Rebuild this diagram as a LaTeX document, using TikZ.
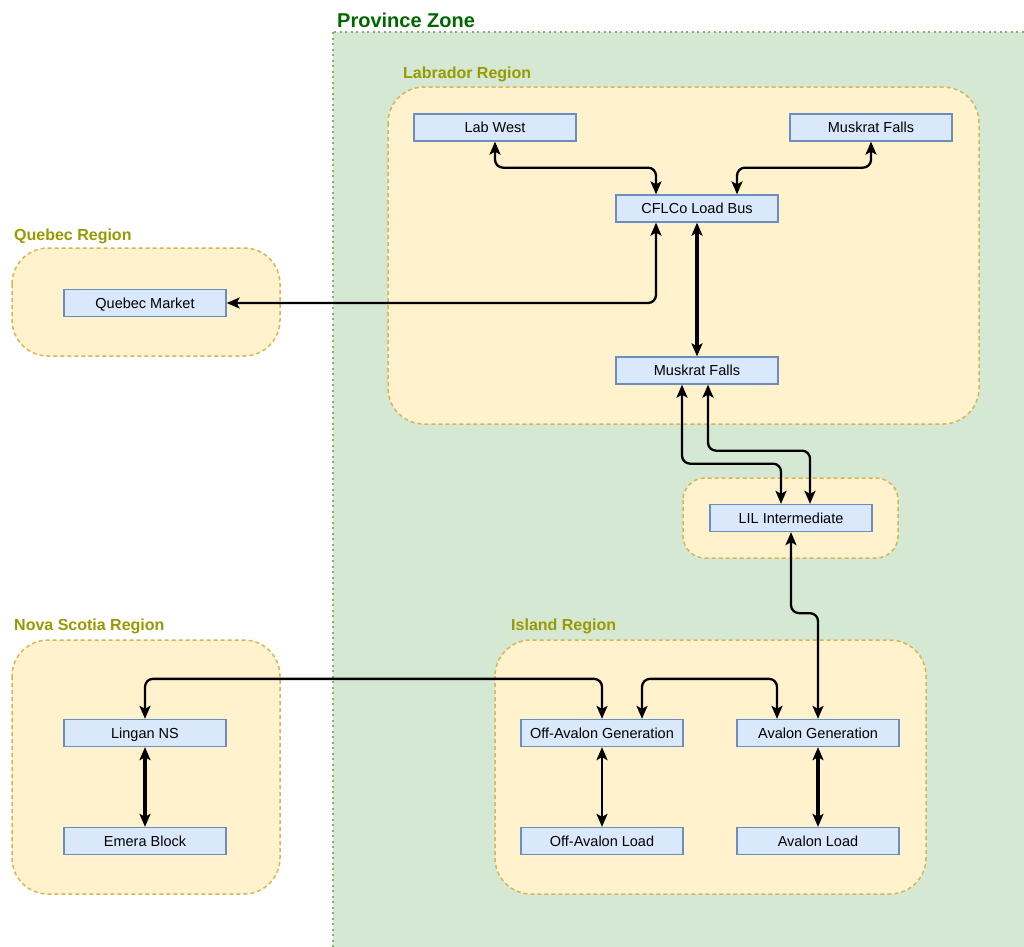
\documentclass[tikz,border=0pt]{standalone}
\usepackage{fontspec}
\setmainfont{Liberation Sans}
\usetikzlibrary{arrows.meta}
\definecolor{zonefill}{HTML}{D5E8D4}
\definecolor{zoneline}{HTML}{82B366}
\definecolor{zonetext}{HTML}{006600}
\definecolor{regfill}{HTML}{FFF2CC}
\definecolor{regline}{HTML}{D6B656}
\definecolor{regtext}{HTML}{999900}
\definecolor{busfill}{HTML}{DAE8FC}
\definecolor{busline}{HTML}{6C8EBF}
\begin{document}
\begin{tikzpicture}[x = 1pt, y = -1pt,
    region/.style = {fill = regfill, draw = regline, line width = 1.5pt,
      dash pattern = on 4pt off 3pt, rounded corners = 36pt},
    regionlabel/.style = {anchor = west, inner sep = 0pt, text = regtext,
      font = \fontsize{16}{18}\selectfont\bfseries},
    bus/.style = {fill = busfill, draw = busline, line width = 1.3pt,
      minimum width = 162pt, minimum height = 27pt, inner sep = 0pt,
      text height = 10.4pt, text depth = 0pt,
      font = \fontsize{14.5}{16}\selectfont},
    link/.style = {line width = 2.3pt, rounded corners = 8pt,
      {Stealth[length = 13pt, width = 11pt, inset = 3pt]}-{Stealth[length = 13pt, width = 11pt, inset = 3pt]}},
    thicklink/.style = {link, line width = 3.3pt}]
  \useasboundingbox (0,0) rectangle (1024,946);
  \clip (0,0) rectangle (1024,946);

  % draws the province zone
  \draw[fill = zonefill, draw = zoneline, line width = 2.2pt,
    dash pattern = on 2pt off 3.5pt] (333,32) rectangle (1040,960);
  \node[anchor = west, inner sep = 0pt, text = zonetext,
    font = \fontsize{20}{22}\selectfont\bfseries] (zonetitle) at (337,20) {Province Zone};

  % draws the regions
  \draw[region] (388,87) rectangle (979,424);
  \draw[region] (12,248) rectangle (280,356);
  \draw[region, rounded corners = 22pt] (683,478) rectangle (898,558);
  \draw[region] (12,640) rectangle (280,894);
  \draw[region] (495,640) rectangle (926,894);

  \node[regionlabel] (labtitle) at (403,74) {Labrador Region};
  \node[regionlabel] (quetitle) at (14,236) {Quebec Region};
  \node[regionlabel] (nstitle) at (14,626) {Nova Scotia Region};
  \node[regionlabel] (isltitle) at (511,626) {Island Region};

  % draws the buses
  \node[bus] (labwest) at (495,127.5) {Lab West};
  \node[bus] (mfupper) at (871,127.5) {Muskrat Falls};
  \node[bus] (cflco) at (697,208.5) {CFLCo Load Bus};
  \node[bus] (quebec) at (145,303) {Quebec Market};
  \node[bus] (mflower) at (697,370.5) {Muskrat Falls};
  \node[bus] (lil) at (791,518) {LIL Intermediate};
  \node[bus] (lingan) at (145,733) {Lingan NS};
  \node[bus] (emera) at (145,841) {Emera Block};
  \node[bus] (offgen) at (602,733) {Off-Avalon Generation};
  \node[bus] (avgen) at (818,733) {Avalon Generation};
  \node[bus] (offload) at (602,841) {Off-Avalon Load};
  \node[bus] (avload) at (818,841) {Avalon Load};

  % draws the links
  \draw[link] (labwest.south) -- ++(0,26) -| ([xshift = -41pt]cflco.north);
  \draw[link] (mfupper.south) -- ++(0,26) -| ([xshift = 40pt]cflco.north);
  \draw[link] ([xshift = -41pt]cflco.south) |- (quebec.east);
  \draw[thicklink] (cflco.south) -- (mflower.north);
  \draw[link] ([xshift = -15pt]mflower.south) -- ++(0,79) -| ([xshift = -10pt]lil.north);
  \draw[link] ([xshift = 11pt]mflower.south) -- ++(0,66) -| ([xshift = 19pt]lil.north);
  \draw[link] (lil.south) -- ++(0,81) -| (avgen.north);
  \draw[link] (lingan.north) -- ++(0,-40) -| (offgen.north);
  \draw[link] ([xshift = 40pt]offgen.north) -- ++(0,-40) -| ([xshift = -41pt]avgen.north);
  \draw[thicklink] (lingan.south) -- (emera.north);
  \draw[link] (offgen.south) -- (offload.north);
  \draw[thicklink] (avgen.south) -- (avload.north);
\end{tikzpicture}
\end{document}
